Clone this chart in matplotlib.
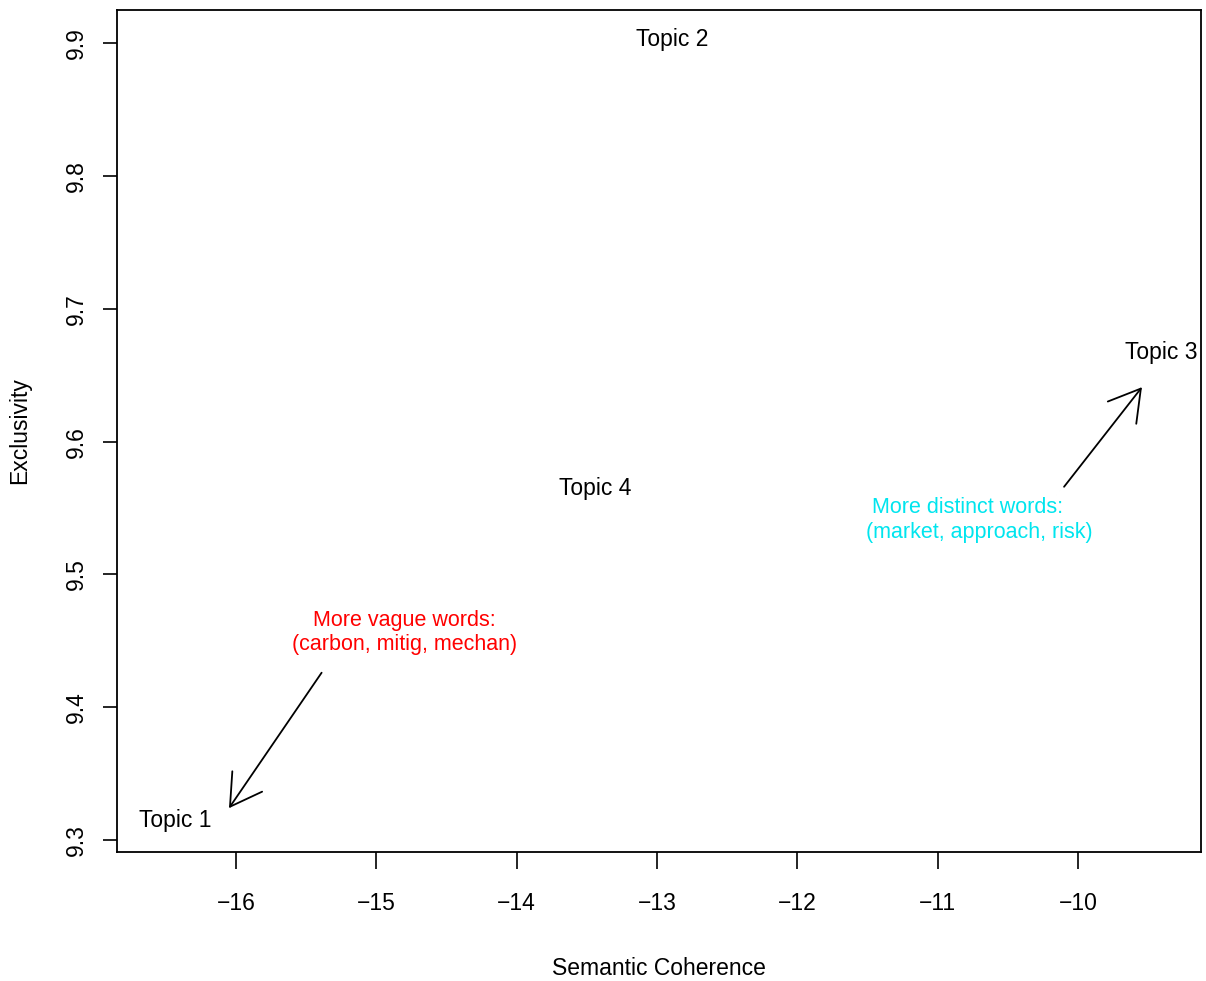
import matplotlib.pyplot as plt

plt.rcParams['font.family'] = ['Liberation Sans', 'DejaVu Sans']

# topic labels placed at (semantic coherence, exclusivity)
topics = ["Topic 1", "Topic 2", "Topic 3", "Topic 4"]
coherence = [-16.43, -12.89, -9.41, -13.44]
exclusivity = [9.315, 9.903, 9.667, 9.565]

# annotation arrows: start -> end
vague_start = (-15.39, 9.426)
vague_end = (-16.05, 9.324)
distinct_start = (-10.10, 9.566)
distinct_end = (-9.545, 9.641)

vague_label = "More vague words:\n(carbon, mitig, mechan)"
vague_pos = (-14.80, 9.4565)
distinct_label = "More distinct words:    \n(market, approach, risk)"
distinct_pos = (-10.705, 9.541)

xticks = [-16, -15, -14, -13, -12, -11, -10]
yticks = [9.3, 9.4, 9.5, 9.6, 9.7, 9.8, 9.9]

fig = plt.figure(figsize=(12.06, 9.81), dpi=100)
ax = fig.add_axes([0.0970, 0.1315, 0.8990, 0.8583])

fs = 16.5
for name, x, y in zip(topics, coherence, exclusivity):
    ax.text(x, y, name, ha='center', va='center', fontsize=fs)

arrow = dict(arrowstyle='->,head_length=22,head_width=13', color='black',
             lw=1.3, shrinkA=0, shrinkB=0, mutation_scale=1)
ax.annotate('', xy=vague_end, xytext=vague_start, arrowprops=arrow)
ax.annotate('', xy=distinct_end, xytext=distinct_start, arrowprops=arrow)

afs = fs * 0.94
ax.text(*vague_pos, vague_label, color='#FF0000', ha='center', va='center',
        fontsize=afs, linespacing=1.2, multialignment='center')
ax.text(*distinct_pos, distinct_label, color='#00E5EE', ha='center', va='center',
        fontsize=afs, linespacing=1.2, multialignment='center')

ax.set_xlim(-16.848, -9.123)
ax.set_ylim(9.291, 9.925)
ax.set_xticks(xticks)
ax.set_yticks(yticks)
ax.set_xticklabels([f"\u2212{abs(t)}" for t in xticks])
ax.set_yticklabels([f"{t:.1f}" for t in yticks], rotation=90, va='center')
ax.tick_params(axis='x', length=12, width=1.2, pad=17, labelsize=fs)
ax.tick_params(axis='y', length=10, width=1.2, pad=11, labelsize=fs)
for s in ax.spines.values():
    s.set_linewidth(1.3)

ax.set_xlabel("Semantic Coherence", fontsize=fs, labelpad=30)
ax.set_ylabel("Exclusivity", fontsize=fs, labelpad=24)

plt.savefig("out.png", dpi=100)
